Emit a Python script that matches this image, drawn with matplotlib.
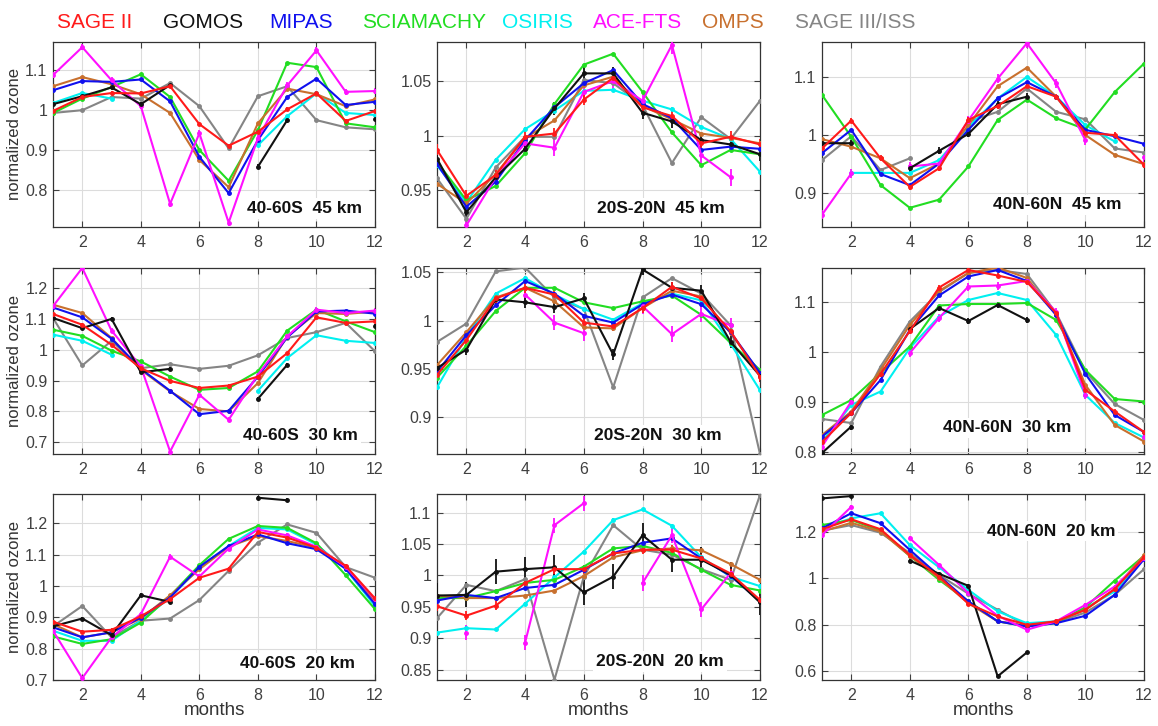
import numpy as np
import matplotlib
matplotlib.use("Agg")
import matplotlib.pyplot as plt
from matplotlib.ticker import FuncFormatter

nan = float('nan')
plt.rcParams['font.family'] = ['Liberation Sans', 'DejaVu Sans']

months = list(range(1, 13))
instruments = ['SAGE II', 'GOMOS', 'MIPAS', 'SCIAMACHY', 'OSIRIS', 'ACE-FTS', 'OMPS', 'SAGE III/ISS']
colors = {'SAGE II': '#ff1a1a', 'GOMOS': '#111111', 'MIPAS': '#1010ee', 'SCIAMACHY': '#22dd22',
          'OSIRIS': '#00f0f0', 'ACE-FTS': '#ff10ff', 'OMPS': '#c8702e', 'SAGE III/ISS': '#858585'}
draw_order = ['SAGE III/ISS', 'OSIRIS', 'SCIAMACHY', 'OMPS', 'MIPAS', 'ACE-FTS', 'GOMOS', 'SAGE II']

# ---------------- data (normalized ozone, months 1..12) ----------------
S_45 = {  # 40-60S 45 km
    'SAGE II':      [0.998, 1.033, 1.043, 1.042, 1.060, 0.965, 0.911, 0.946, 1.002, 1.042, 0.973, 0.998],
    'GOMOS':        [1.015, 1.035, 1.057, 1.015, 1.063, nan, nan, 0.858, 0.975, nan, nan, 0.979],
    'MIPAS':        [1.050, 1.073, 1.071, 1.077, 1.022, 0.883, 0.792, 0.925, 1.033, 1.079, 1.013, 1.021],
    'SCIAMACHY':    [0.993, 1.029, 1.058, 1.090, 1.033, 0.900, 0.823, 0.950, 1.119, 1.108, 0.967, 0.957],
    'OSIRIS':       [1.018, 1.043, 1.029, nan, nan, nan, nan, 0.912, 0.985, 1.042, 0.993, 0.988],
    'ACE-FTS':      [1.088, 1.158, 1.075, 1.010, 0.765, 0.942, 0.718, 0.930, 1.062, 1.150, 1.046, 1.048],
    'OMPS':         [1.060, 1.083, 1.065, 1.040, 0.993, 0.875, 0.807, 0.967, 1.054, 1.040, 1.010, 1.027],
    'SAGE III/ISS': [0.993, 1.000, 1.033, 1.029, 1.068, 1.010, 0.904, 1.035, 1.060, 0.975, 0.957, 0.952],
}
T_45 = {  # 20S-20N 45 km
    'SAGE II':      [0.987, 0.945, 0.964, 0.999, 1.002, 1.033, 1.053, 1.026, 1.018, 0.993, 0.999, 0.992],
    'GOMOS':        [0.979, 0.930, 0.962, 0.988, 1.025, 1.057, 1.057, 1.021, 1.013, 0.996, 0.992, 0.983],
    'MIPAS':        [0.974, 0.935, 0.958, 0.996, 1.026, 1.048, 1.060, 1.029, 1.016, 0.987, 0.990, 0.988],
    'SCIAMACHY':    [0.976, 0.941, 0.954, 0.984, 1.029, 1.065, 1.075, 1.040, 1.003, 0.973, 0.987, 0.983],
    'OSIRIS':       [0.973, 0.939, 0.978, 1.006, 1.023, 1.041, 1.042, 1.032, 1.024, 1.008, 0.997, 0.967],
    'ACE-FTS':      [nan, 0.918, 0.962, 0.993, 0.989, 1.040, 1.050, 1.032, 1.083, 0.982, 0.962, nan],
    'OMPS':         [0.956, 0.938, 0.965, 0.998, 1.014, 1.046, 1.054, 1.027, 1.015, 1.002, 0.998, 0.993],
    'SAGE III/ISS': [0.961, 0.924, 0.971, 0.999, 0.999, 1.051, 1.048, 1.028, 0.975, 1.017, 0.997, 1.032],
}
N_45 = {  # 40N-60N 45 km
    'SAGE II':      [0.977, 1.025, 0.960, 0.911, 0.943, 1.026, 1.050, 1.084, 1.066, 1.004, 1.000, 0.949],
    'GOMOS':        [0.986, 0.986, nan, 0.943, 0.973, 1.002, 1.053, 1.066, nan, nan, nan, nan],
    'MIPAS':        [0.969, 1.009, 0.933, 0.914, 0.951, 1.009, 1.063, 1.091, 1.066, 1.009, 0.998, 0.985],
    'SCIAMACHY':    [1.069, 0.997, 0.914, 0.875, 0.889, 0.946, 1.026, 1.061, 1.029, 1.010, 1.074, 1.123],
    'OSIRIS':       [nan, 0.935, 0.935, 0.935, 0.957, 1.014, 1.063, 1.100, 1.066, 1.017, 0.989, nan],
    'ACE-FTS':      [0.863, 0.934, nan, 0.946, 0.951, 1.025, 1.097, 1.158, 1.089, 0.991, nan, 0.962],
    'OMPS':         [0.993, 0.980, 0.960, 0.926, 0.951, 1.017, 1.084, 1.116, 1.066, 1.000, 0.966, 0.950],
    'SAGE III/ISS': [0.957, 0.998, 0.940, 0.960, nan, 1.023, 1.040, 1.080, 1.040, 1.027, 0.977, 0.970],
}
S_30 = {  # 40-60S 30 km
    'SAGE II':      [1.116, 1.081, 1.016, 0.940, 0.899, 0.876, 0.884, 0.913, 0.989, 1.105, 1.087, 1.092],
    'GOMOS':        [1.103, 1.070, 1.100, 0.927, 0.938, nan, nan, 0.841, 0.951, nan, nan, 1.076],
    'MIPAS':        [1.137, 1.105, 1.036, 0.938, 0.867, 0.791, 0.802, 0.913, 1.040, 1.124, 1.127, 1.117],
    'SCIAMACHY':    [1.065, 1.045, 0.997, 0.962, 0.913, 0.870, 0.876, 0.930, 1.062, 1.130, 1.092, 1.057],
    'OSIRIS':       [1.049, 1.029, 0.984, nan, nan, nan, nan, 0.867, 0.973, 1.047, 1.029, 1.022],
    'ACE-FTS':      [1.141, 1.265, 1.062, 0.946, 0.670, 0.854, 0.773, 0.919, 1.043, 1.130, 1.119, 1.127],
    'OMPS':         [1.146, 1.119, 1.038, 0.935, 0.865, 0.808, 0.800, 0.892, 1.043, 1.119, 1.116, 1.124],
    'SAGE III/ISS': [1.103, 0.949, 1.029, 0.940, 0.953, 0.938, 0.948, 0.982, 1.038, 1.057, 1.087, 0.995],
}
T_30 = {  # 20S-20N 30 km
    'SAGE II':      [0.944, 0.980, 1.023, 1.034, 1.027, 0.998, 0.994, 1.013, 1.035, 1.023, 0.989, 0.942],
    'GOMOS':        [0.951, 0.970, 1.022, 1.019, 1.014, 1.023, 0.965, 1.053, 1.034, 1.031, 0.978, 0.943],
    'MIPAS':        [0.947, 0.985, 1.016, 1.041, 1.028, 1.005, 0.998, 1.017, 1.027, 1.017, 0.988, 0.946],
    'SCIAMACHY':    [0.941, 0.974, 1.010, 1.034, 1.034, 1.019, 1.013, 1.020, 1.026, 1.006, 0.977, 0.949],
    'OSIRIS':       [0.931, 0.983, 1.028, 1.044, 1.027, 1.012, 1.001, 1.018, 1.028, 1.021, 0.976, 0.928],
    'ACE-FTS':      [nan, nan, nan, 1.027, 0.998, 0.987, nan, 1.015, 0.986, 1.007, 0.995, nan],
    'OMPS':         [0.954, 0.988, 1.024, 1.034, 1.020, 0.993, 0.992, 1.013, 1.031, 1.025, 0.987, 0.946],
    'SAGE III/ISS': [0.978, 0.997, 1.051, 1.055, 1.024, 1.012, 0.931, 1.024, 1.044, 1.028, 0.995, 0.862],
}
N_30 = {  # 40N-60N 30 km
    'SAGE II':      [0.819, 0.877, 0.955, 1.041, 1.128, 1.163, 1.152, 1.139, 1.077, 0.923, 0.880, 0.839],
    'GOMOS':        [0.797, 0.850, nan, 1.045, 1.087, 1.061, 1.093, 1.063, nan, nan, nan, nan],
    'MIPAS':        [0.830, 0.877, 0.943, 1.043, 1.112, 1.150, 1.163, 1.141, 1.073, 0.955, 0.873, 0.839],
    'SCIAMACHY':    [0.873, 0.903, 0.957, 1.010, 1.092, 1.095, 1.095, 1.097, 1.063, 0.963, 0.905, 0.900],
    'OSIRIS':       [0.820, 0.893, 0.920, 1.007, 1.070, 1.103, 1.117, 1.103, 1.033, 0.913, 0.857, 0.828],
    'ACE-FTS':      [0.810, 0.900, nan, 0.997, 1.067, 1.130, 1.132, 1.141, 1.079, 0.913, nan, 0.830],
    'OMPS':         [0.833, 0.880, 0.963, 1.053, 1.121, 1.157, 1.168, 1.147, 1.073, 0.933, 0.853, 0.820],
    'SAGE III/ISS': [0.865, 0.857, 0.970, 1.060, 1.119, 1.157, 1.163, 1.155, 1.077, 0.960, 0.895, 0.863],
}
S_20 = {  # 40-60S 20 km
    'SAGE II':      [0.886, 0.854, 0.860, 0.903, 0.958, 1.026, 1.055, 1.172, 1.154, 1.122, 1.064, 0.960],
    'GOMOS':        [0.871, 0.896, 0.843, 0.970, 0.949, nan, nan, 1.281, 1.273, nan, nan, nan],
    'MIPAS':        [0.868, 0.836, 0.852, 0.899, 0.963, 1.061, 1.127, 1.164, 1.136, 1.117, 1.055, 0.942],
    'SCIAMACHY':    [0.839, 0.815, 0.830, 0.883, 0.968, 1.066, 1.150, 1.191, 1.185, 1.136, 1.034, 0.926],
    'OSIRIS':       [0.857, 0.825, 0.825, 0.889, 0.963, 1.058, 1.127, 1.185, 1.180, 1.132, 1.053, 0.936],
    'ACE-FTS':      [0.857, 0.706, 0.836, 0.910, 1.093, 1.030, 1.119, 1.180, 1.161, 1.125, 1.061, 0.958],
    'OMPS':         [0.878, 0.836, 0.852, 0.896, 0.970, 1.053, 1.125, 1.159, 1.143, 1.122, 1.058, 0.952],
    'SAGE III/ISS': [0.871, 0.936, 0.836, 0.889, 0.896, 0.955, 1.048, 1.138, 1.196, 1.169, 1.060, 1.026],
}
T_20 = {  # 20S-20N 20 km
    'SAGE II':      [0.951, 0.936, 0.952, 0.988, 1.010, 1.010, 1.035, 1.041, 1.041, 1.027, 1.003, 0.961],
    'GOMOS':        [0.968, 0.969, 1.006, 1.010, 1.013, 0.973, 0.998, 1.064, 1.025, 1.025, 1.001, 0.957],
    'MIPAS':        [0.960, 0.969, 0.964, 0.980, 0.985, 1.009, 1.035, 1.052, 1.059, 1.027, 0.999, 0.959],
    'SCIAMACHY':    [0.964, 0.964, 0.975, 0.988, 0.993, 1.014, 1.043, 1.047, 1.036, 1.009, 0.985, 0.976],
    'OSIRIS':       [0.909, 0.916, 0.914, 0.955, 0.997, 1.038, 1.088, 1.105, 1.079, 1.029, 0.998, 0.983],
    'ACE-FTS':      [nan, 0.909, nan, 0.893, 1.080, 1.115, nan, 0.988, 1.064, 0.946, 1.004, nan],
    'OMPS':         [0.968, 0.964, 0.964, 0.968, 0.976, 0.999, 1.029, 1.040, 1.043, 1.040, 1.018, 0.993],
    'SAGE III/ISS': [0.932, 0.985, 0.975, 0.994, 0.834, 0.998, 1.080, 1.041, 1.033, 1.010, 0.993, 1.128],
}
N_20 = {  # 40N-60N 20 km
    'SAGE II':      [1.211, 1.254, 1.211, 1.100, 1.007, 0.890, 0.835, 0.799, 0.814, 0.864, 0.953, 1.090],
    'GOMOS':        [1.344, 1.354, nan, 1.076, 1.019, 0.967, 0.577, 0.680, nan, nan, nan, nan],
    'MIPAS':        [1.215, 1.280, 1.237, 1.122, 1.010, 0.900, 0.814, 0.792, 0.806, 0.838, 0.928, 1.082],
    'SCIAMACHY':    [1.229, 1.251, 1.205, 1.096, 0.993, 0.900, 0.814, 0.792, 0.806, 0.875, 0.990, 1.096],
    'OSIRIS':       [1.215, 1.258, 1.280, 1.143, 1.047, 0.950, 0.857, 0.806, 0.814, 0.871, 0.943, 1.086],
    'ACE-FTS':      [1.186, 1.308, nan, 1.172, 1.057, 0.935, 0.838, 0.778, 0.814, 0.885, 0.964, 1.086],
    'OMPS':         [1.201, 1.239, 1.201, 1.096, 1.000, 0.892, 0.814, 0.795, 0.814, 0.864, 0.953, 1.100],
    'SAGE III/ISS': [1.205, 1.229, 1.196, 1.108, 1.014, 0.933, 0.864, 0.795, 0.809, 0.852, 0.928, 1.039],
}

# typical uncertainty shown as error bars
ERR = {'SAGE II': 0.005, 'GOMOS': 0.006, 'MIPAS': 0.002, 'SCIAMACHY': 0.0, 'OSIRIS': 0.002,
       'ACE-FTS': 0.008, 'OMPS': 0.0, 'SAGE III/ISS': 0.0}
ERR_T20 = {'SAGE II': 0.007, 'GOMOS': 0.02, 'MIPAS': 0.002, 'SCIAMACHY': 0.0, 'OSIRIS': 0.003,
           'ACE-FTS': 0.012, 'OMPS': 0.0, 'SAGE III/ISS': 0.0}

panels = [
    (S_45, '40-60S  45 km', (0.707, 1.171), [0.8, 0.9, 1.0, 1.1], (0.96, 0.10), ERR),
    (T_45, '20S-20N  45 km', (0.9165, 1.0857), [0.95, 1.0, 1.05], (0.89, 0.10), ERR),
    (N_45, '40N-60N  45 km', (0.842, 1.160), [0.9, 1.0, 1.1], (0.93, 0.12), ERR),
    (S_30, '40-60S  30 km', (0.662, 1.265), [0.7, 0.8, 0.9, 1.0, 1.1, 1.2], (0.947, 0.10), ERR),
    (T_30, '20S-20N  30 km', (0.862, 1.0545), [0.9, 0.95, 1.0, 1.05], (0.882, 0.10), ERR),
    (N_30, '40N-60N  30 km', (0.795, 1.167), [0.8, 0.9, 1.0, 1.1], (0.773, 0.14), ERR),
    (S_20, '40-60S  20 km', (0.700, 1.293), [0.7, 0.8, 0.9, 1.0, 1.1, 1.2], (0.938, 0.09), ERR),
    (T_20, '20S-20N  20 km', (0.8336, 1.1296), [0.85, 0.9, 0.95, 1.0, 1.05, 1.1], (0.888, 0.10), ERR_T20),
    (N_20, '40N-60N  20 km', (0.561, 1.363), [0.6, 0.8, 1.0, 1.2], (0.91, 0.80), ERR),
]

W, H = 1158, 726
fig = plt.figure(figsize=(W / 100, H / 100), dpi=100)
col_x = [(53, 375), (437, 760), (822, 1144)]
row_y = [(42, 227), (268, 454), (494, 680)]

fmt = FuncFormatter(lambda v, p: ('%g' % round(v, 4)))
tick_color = '#404040'

for i, (data, label, ylim, yticks, lpos, err) in enumerate(panels):
    r, c = divmod(i, 3)
    x0, x1 = col_x[c]
    y0, y1 = row_y[r]
    ax = fig.add_axes([x0 / W, 1 - y1 / H, (x1 - x0) / W, (y1 - y0) / H])
    for name in draw_order:
        vals = np.array(data[name], dtype=float)
        e = err[name]
        ax.errorbar(months, vals, yerr=(e if e > 0 else None), color=colors[name], lw=1.5,
                    marker='o', ms=2.5, elinewidth=1.3, capsize=0, zorder=3)
    ax.set_xlim(1, 12)
    ax.set_ylim(*ylim)
    ax.set_xticks([2, 4, 6, 8, 10, 12])
    ax.set_yticks(yticks)
    ax.yaxis.set_major_formatter(fmt)
    ax.grid(True, color='#dcdcdc', lw=0.8, zorder=0)
    ax.set_axisbelow(True)
    ax.tick_params(direction='in', length=4, width=0.8, colors=tick_color, labelsize=11.5,
                   top=True, right=True)
    ax.tick_params(axis='x', pad=6)
    ax.tick_params(axis='y', pad=4)
    for sp in ax.spines.values():
        sp.set_color('#333333')
        sp.set_linewidth(0.9)
    ax.text(lpos[0], lpos[1], label, transform=ax.transAxes, ha='right', va='center',
            fontsize=12.5, fontweight='bold', color='#111111', zorder=10,
            bbox=dict(facecolor='white', edgecolor='none', pad=2))
    if c == 0:
        ax.set_ylabel('normalized ozone', fontsize=12, color='#333333')
        ax.yaxis.set_label_coords(-(x0 - 22) / (x1 - x0), 0.5)
    if r == 2:
        ax.set_xlabel('months', fontsize=13.5, color='#333333')
        ax.xaxis.set_label_coords(0.5, -(702 - y1) / (y1 - y0))

# legend as coloured labels across the top
legend_x = [57, 163, 269, 362, 502, 593, 702, 795]
for name, lx in zip(instruments, legend_x):
    fig.text(lx / W, 1 - 22 / H, name, color=colors[name], fontsize=15, ha='left', va='center')

fig.savefig('out.png', dpi=100)
